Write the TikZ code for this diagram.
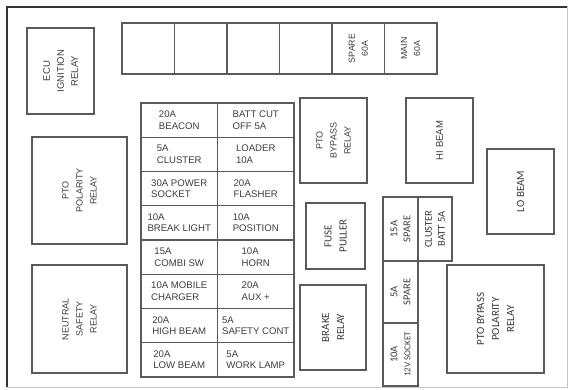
\documentclass[tikz,border=0pt]{standalone}
\usepackage{fontspec}
\setmainfont{Liberation Sans}
\newfontfamily\calib{Carlito}
\usepackage{tikz}
\usetikzlibrary{positioning}
\usepackage{xcolor}
\definecolor{linegray}{HTML}{5A5A5A}
\definecolor{txtgray}{HTML}{3C3C3C}

\begin{document}
\begin{tikzpicture}[
      x=1pt, y=-1pt,
      box/.style={draw=linegray, line width=1.2pt, inner sep=0pt, text=txtgray},
      relay/.style={box, rotate=90, align=center, font=\fontsize{9}{14}\selectfont},
      crelay/.style={box, rotate=90, align=center, font=\calib\fontsize{11}{15}\selectfont},
      cell/.style={box, minimum width=76.5pt, minimum height=34.25pt, align=left, font=\fontsize{9.6}{11.5}\selectfont},
      topcell/.style={box, rotate=90, minimum width=51pt, minimum height=52.5pt, align=center, font=\fontsize{8.8}{13}\selectfont},
      minifuse/.style={box, rotate=90, align=center, font=\calib\fontsize{10.5}{13}\selectfont}
    ]
    \useasboundingbox (0,0) rectangle (573,390);
    % housing outline
    \draw[linegray!35, line width=1pt] (7,7) rectangle (567,387);
    \draw[black!80, line width=2.2pt] (7,387) -- (7,7) -- (567,7);

    % top row of big fuses
    \foreach \k in {0,...,3}
      \node[topcell] (big\k) at (148.25+52.5*\k, 48.5) {};
    \node[topcell] (spare) at (358.25, 48.5) {SPARE\\60A};
    \node[topcell] (main) at (410.75, 48.5) {MAIN\\60A};

    % relays on the left
    \node[relay, minimum width=86pt, minimum height=67pt, font=\fontsize{9.5}{14}\selectfont] (ecu) at (60.5,71) {ECU\\IGNITION\\RELAY};
    \node[relay, minimum width=107pt, minimum height=95pt] (ptopol) at (79.5,190.5) {PTO\\POLARITY\\RELAY};
    \node[relay, minimum width=108pt, minimum height=95pt] (neutral) at (79.5,319) {NEUTRAL\\SAFETY\\RELAY};

    % fuse table
    \foreach \lt/\rt [count=\r from 0] in {
        {20A\\BEACON}/{BATT CUT\\OFF 5A},
        {5A\\CLUSTER}/{LOADER\\10A},
        {30A POWER\\SOCKET}/{20A\\FLASHER},
        {10A\\BREAK LIGHT}/{10A\\POSITION},
        {15A\\COMBI SW}/{10A\\HORN},
        {10A MOBILE\\CHARGER}/{20A\\AUX +},
        {20A\\HIGH BEAM}/{5A\\SAFETY CONT},
        {20A\\LOW BEAM}/{5A\\WORK LAMP}} {
      \node[cell] (fl\r) at (179.25, 120.125+34.25*\r) {\lt};
      \node[cell] (fr\r) at (255.75, 120.125+34.25*\r) {\rt};
    }

    % middle and right
    \node[relay, minimum width=85pt, minimum height=67pt] (ptobyp) at (333.5,140.5) {PTO\\BYPASS\\RELAY};
    \node[relay, minimum width=85pt, minimum height=67pt, font=\fontsize{9.5}{14}\selectfont] (hibeam) at (439.5,140.5) {HI BEAM};
    \node[crelay, minimum width=85pt, minimum height=67pt] (lobeam) at (520.5,191.5) {LO BEAM};
    \node[crelay, minimum width=66pt, minimum height=59pt] (puller) at (335.5,236) {FUSE\\PULLER};
    \node[crelay, minimum width=85pt, minimum height=66pt] (brake) at (333,327.5) {BRAKE\\RELAY};
    \node[crelay, minimum width=108pt, minimum height=97pt] (ptobyppol) at (495.5,319) {PTO BYPASS\\POLARITY\\RELAY};

    % small fuses
    \node[minifuse, minimum width=64pt, minimum height=35pt] (spare15) at (400.5,229) {15A\\SPARE};
    \node[minifuse, minimum width=64pt, minimum height=34pt] (clbatt) at (435,229) {CLUSTER\\BATT 5A};
    \node[minifuse, minimum width=62pt, minimum height=35pt] (spare5) at (400.5,292) {5A\\SPARE};
    \node[minifuse, minimum width=63pt, minimum height=35pt] (socket) at (400.5,354.5) {10A\\{\fontsize{9}{11}\selectfont 12V SOCKET}};
  \end{tikzpicture}
\end{document}
